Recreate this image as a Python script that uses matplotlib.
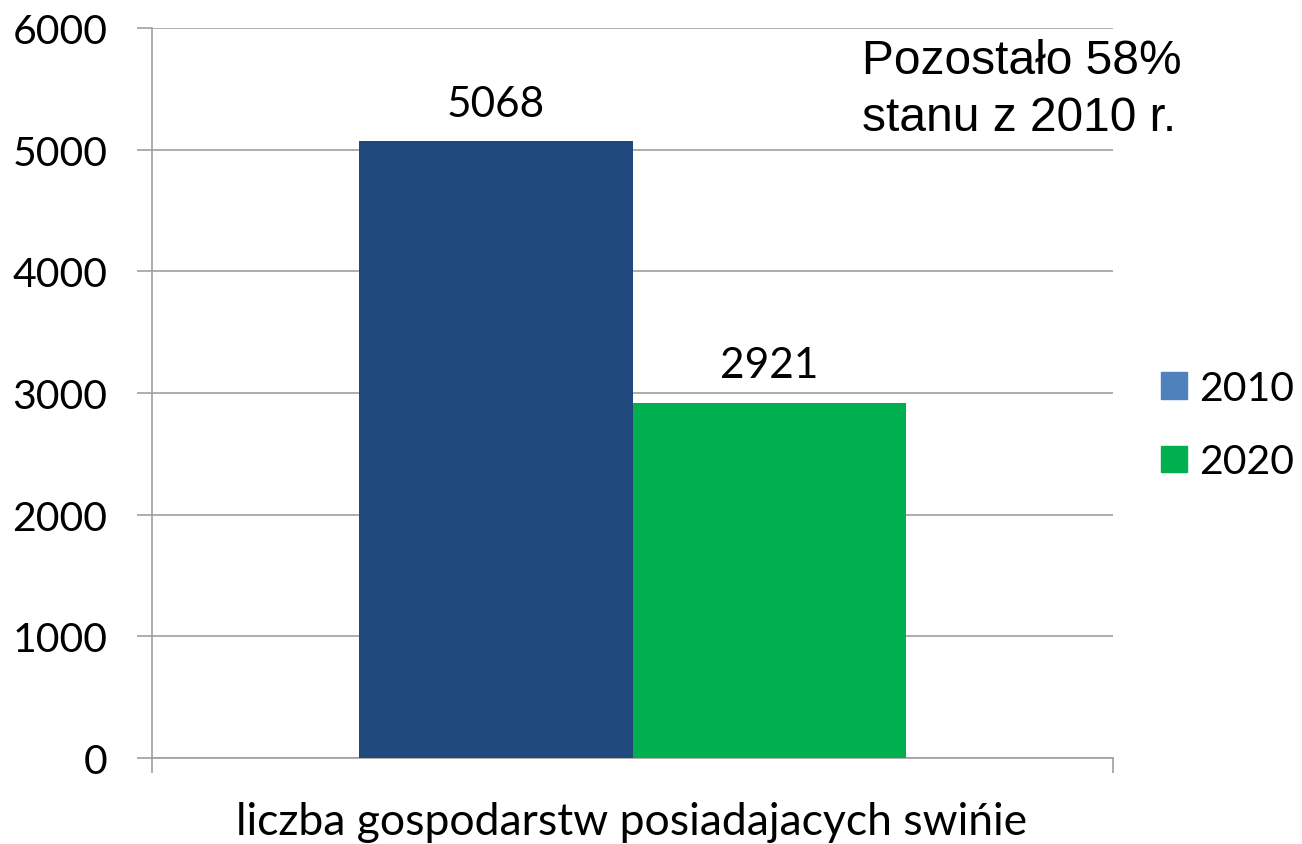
import matplotlib
matplotlib.use("Agg")
import matplotlib.pyplot as plt

years = ["2010", "2020"]
values = [5068, 2921]
bar_colors = ["#1F497D", "#00B050"]
legend_colors = ["#4F81BD", "#00B050"]
category = "liczba gospodarstw posiadajacych swińie"
note = "Pozostało 58%\nstanu z 2010 r."
yticks = [0, 1000, 2000, 3000, 4000, 5000, 6000]

font_main = ["Lato", "DejaVu Sans"]

fig = plt.figure(figsize=(13.02, 8.45), dpi=100)
ax = fig.add_axes([152 / 1302, 1 - 759 / 845, (1113 - 152) / 1302, (759 - 29) / 845])

w = 0.285
offsets = [-w / 2, w / 2]
for off, v, c in zip(offsets, values, bar_colors):
    ax.bar(off, v, width=w, color=c, zorder=3)
    ax.text(off, v + 310, str(v), ha="center", va="center",
            fontsize=30.5, family=font_main, zorder=4)

ax.set_xlim(-0.5, 0.5)
ax.set_ylim(0, 6000)
ax.set_yticks(yticks)
ax.set_yticklabels([str(t) for t in yticks], fontsize=29.5, family=font_main)
ax.yaxis.grid(True, color="#A0A0A0", lw=1.2, zorder=0)
ax.tick_params(axis="y", length=11, width=1.2, color="#A0A0A0", pad=21)
ax.set_xticks([-0.5, 0.5])
ax.set_xticklabels(["", ""])
ax.tick_params(axis="x", length=11, width=1.2, color="#A0A0A0")
for s in ["top", "right"]:
    ax.spines[s].set_visible(False)
for s in ["left", "bottom"]:
    ax.spines[s].set_color("#A0A0A0")
    ax.spines[s].set_linewidth(1.2)

fig.text(632 / 1302, 1 - 823 / 845, category, ha="center", va="center",
         fontsize=32, family=font_main)

fig.text(862 / 1302, 1 - 90 / 845, note, ha="left", va="center",
         fontsize=34.5, family=["Liberation Sans", "DejaVu Sans"], linespacing=1.32)

handles = [plt.Rectangle((0, 0), 1, 1, color=c) for c in legend_colors]
fig.legend(handles, years, loc="center left", bbox_to_anchor=(1124 / 1302, 1 - 426 / 845),
           frameon=False, prop={"family": font_main, "size": 29.5},
           handlelength=0.63, handleheight=0.63, handletextpad=0.3, labelspacing=0.9)

fig.savefig("out.png", dpi=100)
